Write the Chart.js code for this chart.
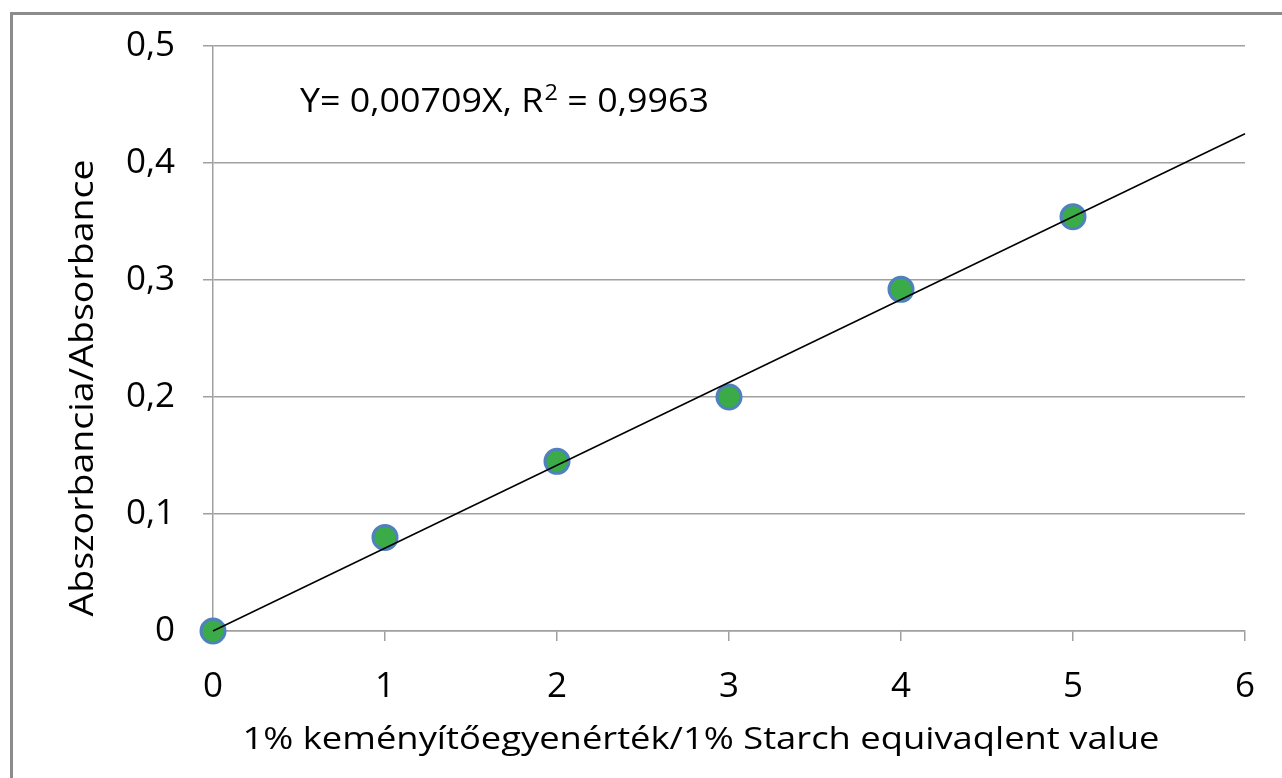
<!DOCTYPE html>
<html>
<head>
<meta charset="utf-8">
<script src="https://cdn.jsdelivr.net/npm/chart.js@4/dist/chart.umd.min.js"></script>
<style>
html,body{margin:0;padding:0;background:#fff;}
#wrap{position:relative;width:1282px;height:778px;overflow:hidden;}
#frame{position:absolute;left:10px;top:12px;width:1300px;height:800px;border-left:3px solid #8c8c8c;border-top:3px solid #8c8c8c;box-sizing:border-box;}
canvas{position:absolute;left:0;top:0;}
</style>
</head>
<body>
<div id="wrap"><div id="frame"></div><canvas id="c" width="1282" height="778"></canvas></div>
<script>
const xValues = [0, 1, 2, 3, 4, 5];
const yValues = [0, 0.08, 0.145, 0.2, 0.292, 0.354];
const trendX = [0, 6];
const trendY = [0, 0.425];
const yTicks = [0, 0.1, 0.2, 0.3, 0.4, 0.5];
const xTicks = [0, 1, 2, 3, 4, 5, 6];
const xTitle = '1% keményítőegyenérték/1% Starch equivaqlent value';
const yTitle = 'Abszorbancia/Absorbance';
const eqMain = 'Y= 0,00709X, R';
const eqSup = '2';
const eqEnd = ' = 0,9963';

const FONT = "'Open Sans', sans-serif";

function stretchedText(ctx, text, x, y, targetWidth) {
  const w = ctx.measureText(text).width;
  ctx.save();
  ctx.translate(x, y);
  ctx.scale(targetWidth / w, 1);
  ctx.fillText(text, 0, 0);
  ctx.restore();
}

const textPlugin = {
  id: 'texts',
  afterDraw(chart) {
    const ctx = chart.ctx;
    ctx.save();
    ctx.fillStyle = '#000';
    ctx.textAlign = 'center';
    ctx.textBaseline = 'middle';
    ctx.font = "31px " + FONT;
    stretchedText(ctx, xTitle, 701, 740, 917);
    ctx.save();
    ctx.translate(84, 388);
    ctx.rotate(-Math.PI / 2);
    ctx.font = "32px " + FONT;
    stretchedText(ctx, yTitle, 0, 0, 457);
    ctx.restore();
    // equation
    ctx.textAlign = 'left';
    ctx.font = "32px " + FONT;
    const sx = 1.12;
    ctx.save();
    ctx.translate(300, 103);
    ctx.scale(sx, 1);
    let x = 0;
    ctx.fillText(eqMain, x, 0);
    x += ctx.measureText(eqMain).width;
    ctx.font = "21px " + FONT;
    ctx.fillText(eqSup, x + 1, -9);
    x += ctx.measureText(eqSup).width + 1;
    ctx.font = "32px " + FONT;
    ctx.fillText(eqEnd, x, 0);
    ctx.restore();
    ctx.restore();
  }
};

new Chart(document.getElementById('c'), {
  type: 'scatter',
  data: {
    datasets: [
      {
        type: 'line',
        data: trendX.map((x, i) => ({x: x, y: trendY[i]})),
        borderColor: '#000',
        borderWidth: 1.5,
        pointRadius: 0,
        fill: false,
        clip: false,
        order: 0
      },
      {
        data: xValues.map((x, i) => ({x: x, y: yValues[i]})),
        backgroundColor: '#3aab47',
        borderColor: '#4f81bd',
        borderWidth: 3,
        pointRadius: 12,
        clip: false,
        order: 1
      }
    ]
  },
  options: {
    responsive: false,
    animation: false,
    events: [],
    layout: {padding: {left: 0, top: 46, right: 37, bottom: 0}},
    plugins: {legend: {display: false}, tooltip: {enabled: false}},
    scales: {
      x: {
        type: 'linear', min: 0, max: 6,
        afterBuildTicks(s) { s.ticks = xTicks.map(v => ({value: v})); },
        afterFit(s) { s.height = 147; },
        grid: {drawOnChartArea: false, drawTicks: true, tickLength: 10, color: '#a0a0a0', lineWidth: 1.5},
        border: {display: true, color: '#a0a0a0', width: 1.5},
        ticks: {color: '#000', font: {family: FONT, size: 35}, padding: 25, maxRotation: 0,
          callback: v => String(v)}
      },
      y: {
        type: 'linear', min: 0, max: 0.5,
        afterBuildTicks(s) { s.ticks = yTicks.map(v => ({value: v})); },
        afterFit(s) { s.width = 213; },
        grid: {drawOnChartArea: true, drawTicks: true, tickLength: 10, color: '#a0a0a0', lineWidth: 1.5},
        border: {display: true, color: '#a0a0a0', width: 1.5},
        ticks: {color: '#000', font: {family: FONT, size: 35, lineHeight: 1.0}, padding: 28,
          callback: v => String(Math.round(v * 10) / 10).replace('.', ',')}
      }
    }
  },
  plugins: [textPlugin]
});
</script>
</body>
</html>
